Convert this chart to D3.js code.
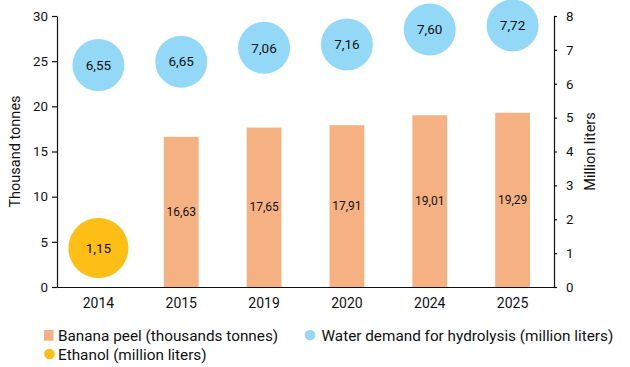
<!DOCTYPE html>
<html><head><meta charset="utf-8">
<script src="https://cdn.jsdelivr.net/npm/d3@7"></script>
<style>body{margin:0;background:#fff}svg{display:block;font-family:Roboto,sans-serif}</style>
</head><body><svg id="c" width="630" height="367"></svg>
<script>
const categories = ["2014","2015","2019","2020","2024","2025"];
const bananaPeel = [null,16.63,17.65,17.91,19.01,19.29];
const waterDemand = [6.55,6.65,7.06,7.16,7.60,7.72];
const ethanol = [1.15,null,null,null,null,null];
const leftTicks = [0,5,10,15,20,25,30];
const rightTicks = [0,1,2,3,4,5,6,7,8];
const legendLabels = ["Banana peel (thousands tonnes)","Water demand for hydrolysis (million liters)","Ethanol (million liters)"];
const fmt = v => v.toFixed(2).replace(".", ",");

const svg = d3.select("#c");
const m = {l:57, r:76, t:16, b:80};
const W = 630, H = 367;
const x = d3.scaleBand().domain(categories).range([m.l, W-m.r]).padding(0);
const yL = d3.scaleLinear().domain([0,30]).range([H-m.b, m.t]);
const yR = d3.scaleLinear().domain([0,8]).range([H-m.b, m.t]);
const barW = x.bandwidth()*0.42;

const bg = svg.append("g");
categories.forEach((c,i)=>{
  if(bananaPeel[i]==null) return;
  const cx = x(c)+x.bandwidth()/2;
  bg.append("rect").attr("x",cx-barW/2).attr("width",barW)
    .attr("y",yL(bananaPeel[i])).attr("height",yL(0)-yL(bananaPeel[i]))
    .attr("fill","#F6B183");
  bg.append("text").attr("x",cx).attr("y",(yL(bananaPeel[i])+yL(0))/2)
    .attr("dy","0.35em").attr("text-anchor","middle").attr("font-size",12).attr("fill","#111")
    .text(fmt(bananaPeel[i]));
});
categories.forEach((c,i)=>{
  const cx = x(c)+x.bandwidth()/2;
  bg.append("circle").attr("cx",cx).attr("cy",yR(waterDemand[i])).attr("r",26).attr("fill","#93D9F7");
  bg.append("text").attr("x",cx).attr("y",yR(waterDemand[i])).attr("dy","0.35em")
    .attr("text-anchor","middle").attr("font-size",13.5).attr("fill","#111").text(fmt(waterDemand[i]));
});
categories.forEach((c,i)=>{
  if(ethanol[i]==null) return;
  const cx = x(c)+x.bandwidth()/2;
  bg.append("circle").attr("cx",cx).attr("cy",yR(ethanol[i])).attr("r",30).attr("fill","#FDBF15");
  bg.append("text").attr("x",cx).attr("y",yR(ethanol[i])).attr("dy","0.35em")
    .attr("text-anchor","middle").attr("font-size",13.5).attr("fill","#111").text(fmt(ethanol[i]));
});

const gl = svg.append("g").attr("transform",`translate(${m.l},0)`)
  .call(d3.axisLeft(yL).tickValues(leftTicks).tickSize(5).tickPadding(4).tickSizeOuter(0));
const gr = svg.append("g").attr("transform",`translate(${W-m.r},0)`)
  .call(d3.axisRight(yR).tickValues(rightTicks).tickSize(3).tickPadding(9).tickSizeOuter(0));
const gx = svg.append("g").attr("transform",`translate(0,${H-m.b})`)
  .call(d3.axisBottom(x).tickSize(0).tickPadding(11));
[gl,gr,gx].forEach(g=>{
  g.selectAll("text").attr("font-size",13.3).attr("fill","#111").attr("font-family","Roboto,sans-serif");
  g.selectAll("line,path").attr("stroke","#111").attr("stroke-width",1.2);
});
gx.selectAll("text").attr("font-size",14);

svg.append("text").attr("transform",`translate(15,${(m.t+H-m.b)/2}) rotate(-90)`)
  .attr("text-anchor","middle").attr("dy","0.35em").attr("font-size",14.5).attr("fill","#111").text("Thousand tonnes");
svg.append("text").attr("transform",`translate(590,${(m.t+H-m.b)/2}) rotate(-90)`)
  .attr("text-anchor","middle").attr("dy","0.35em").attr("font-size",14.5).attr("fill","#111").text("Million liters");

const lg = svg.append("g").attr("font-size",15.3).attr("fill","#111");
lg.append("rect").attr("x",44).attr("y",330).attr("width",9.5).attr("height",10.7).attr("fill","#F6B183");
lg.append("text").attr("x",58).attr("y",335.5).attr("dy","0.35em").text(legendLabels[0]);
lg.append("circle").attr("cx",310).attr("cy",335).attr("r",5.3).attr("fill","#93D9F7");
lg.append("text").attr("x",321.5).attr("y",335.5).attr("dy","0.35em").text(legendLabels[1]);
lg.append("circle").attr("cx",49.5).attr("cy",354).attr("r",5.3).attr("fill","#FDBF15");
lg.append("text").attr("x",58).attr("y",354.5).attr("dy","0.35em").text(legendLabels[2]);
</script></body></html>
